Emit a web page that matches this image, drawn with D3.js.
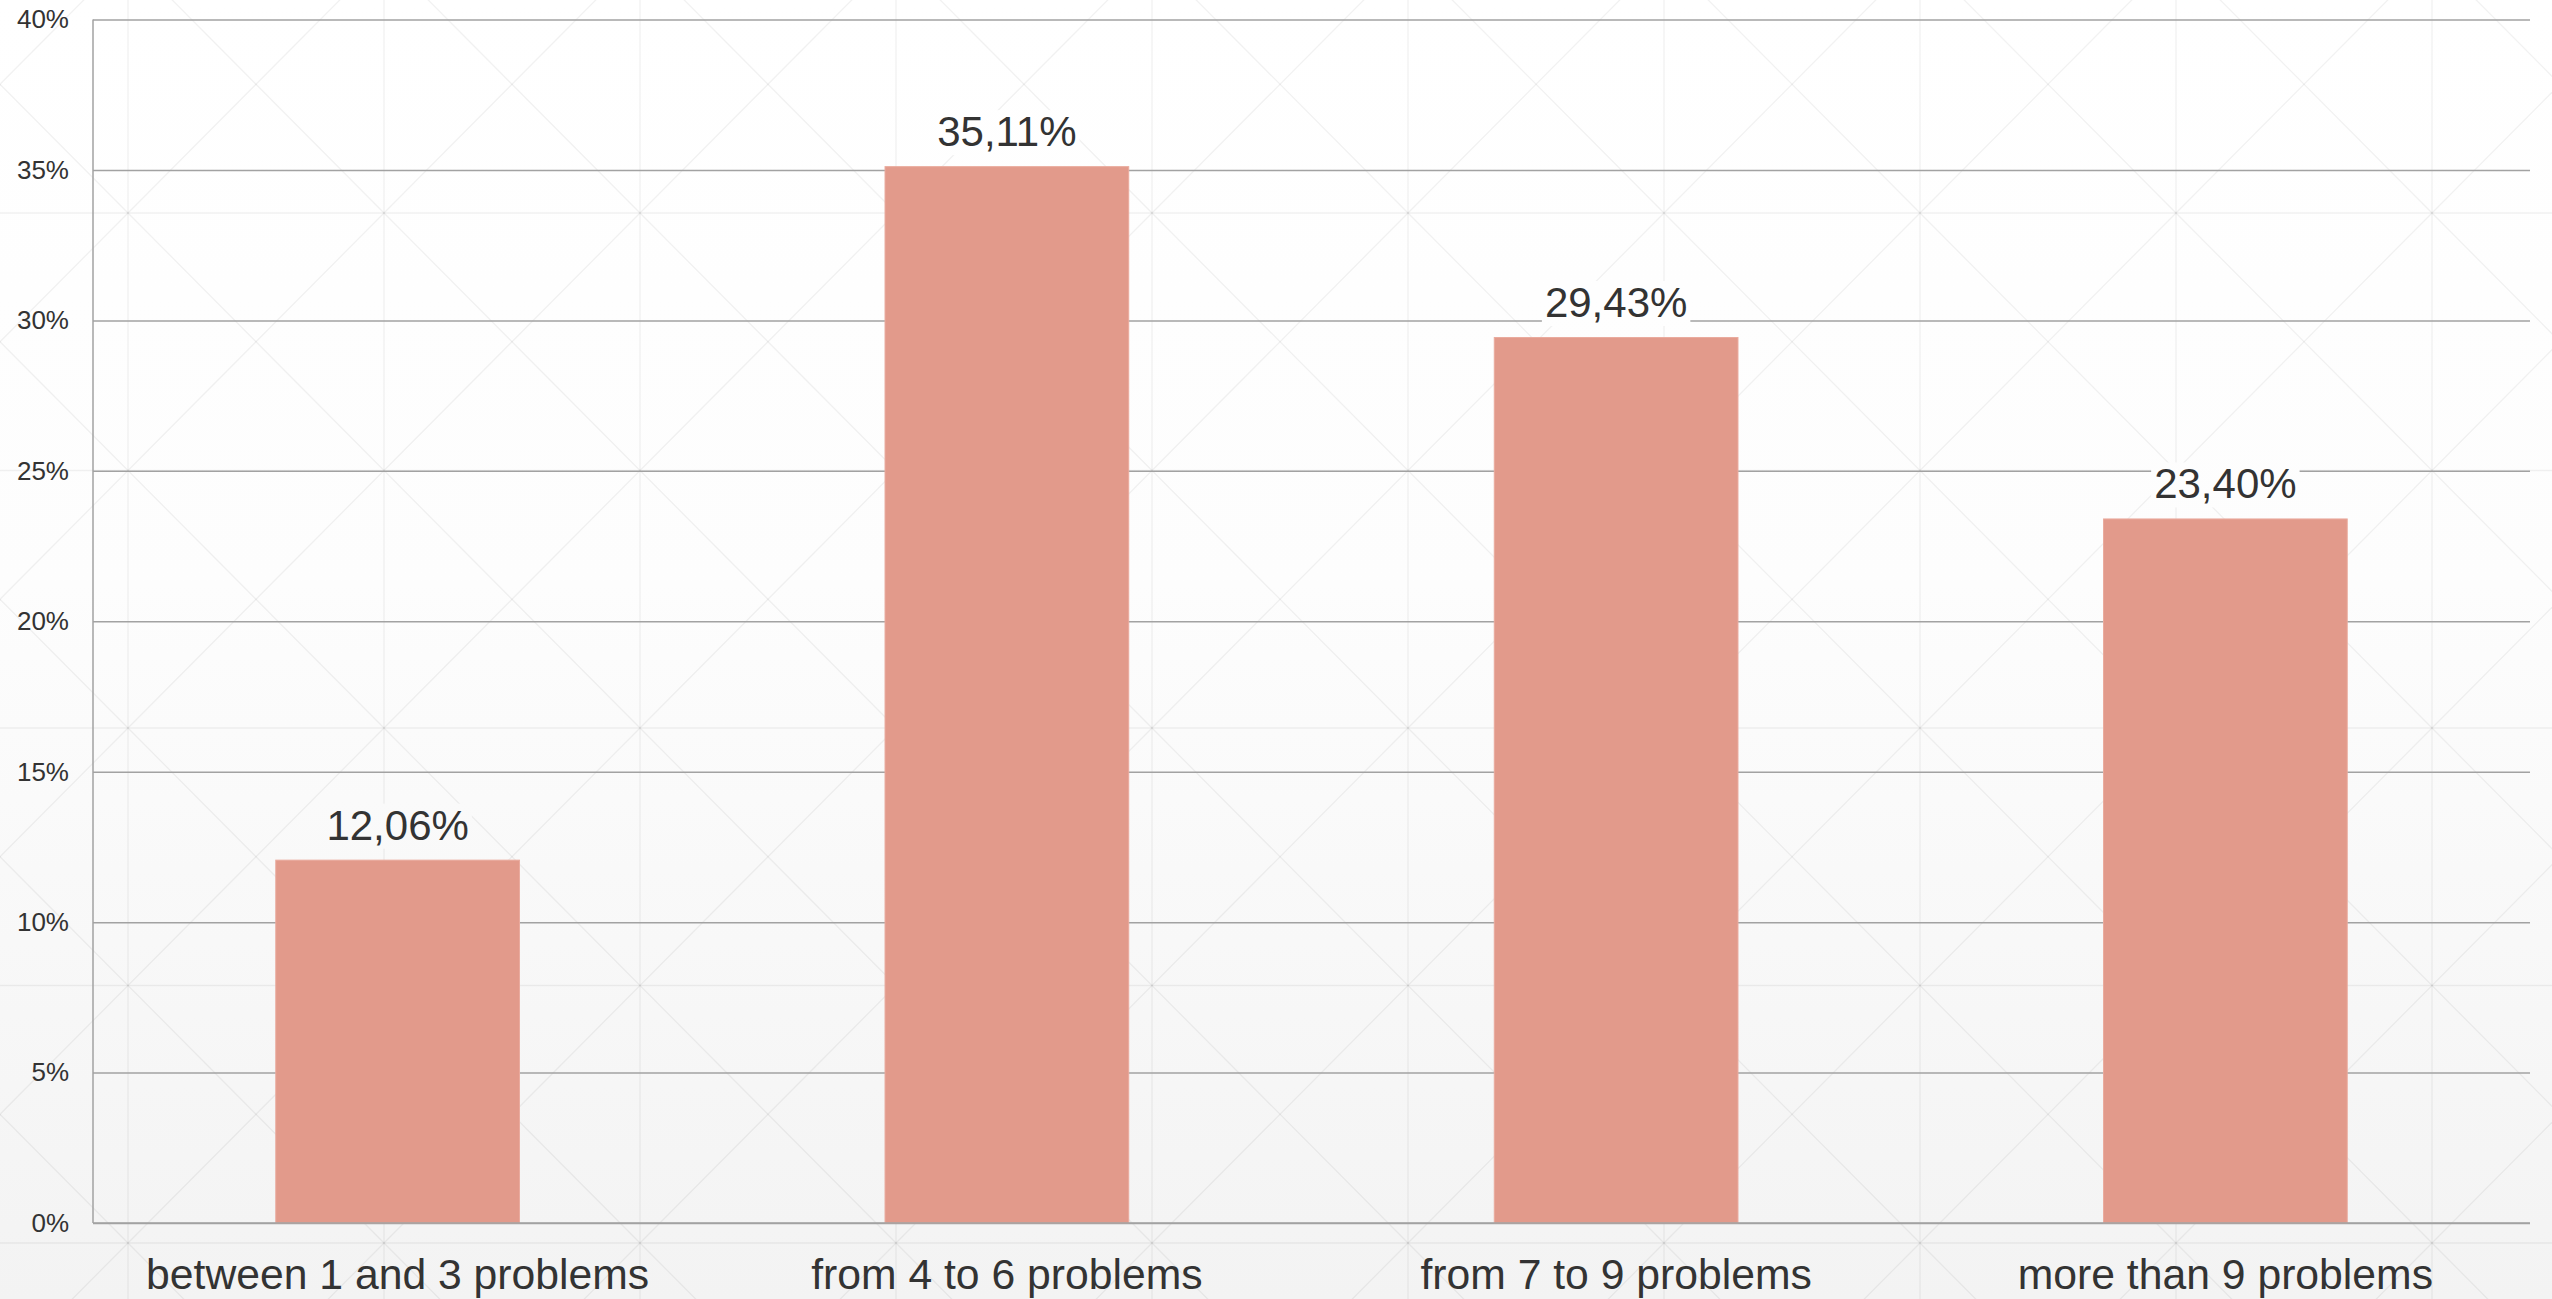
<!DOCTYPE html>
<html>
<head>
<meta charset="utf-8">
<script src="https://cdn.jsdelivr.net/npm/d3@7"></script>
<style>
  html, body { margin: 0; padding: 0; overflow: hidden; background: #fff; }
  svg { display: block; font-family: "Liberation Sans", Arial, sans-serif; }
</style>
</head>
<body>
<svg id="chart"></svg>
<script>
// Share of respondents by number of problems reported
const categories = ["between 1 and 3 problems", "from 4 to 6 problems", "from 7 to 9 problems", "more than 9 problems"];
const shares = [12.06, 35.11, 29.43, 23.40];
const yTicks = [0, 5, 10, 15, 20, 25, 30, 35, 40];

const W = 2552, H = 1299;
const margin = { top: 19.5, right: 22, bottom: 76, left: 93 };

const svg = d3.select("#chart").attr("width", W).attr("height", H);
const defs = svg.append("defs");

// soft vertical gradient used for the page and for label backings
const grad = defs.append("linearGradient")
  .attr("id", "bg").attr("gradientUnits", "userSpaceOnUse")
  .attr("x1", 0).attr("y1", 0).attr("x2", 0).attr("y2", H);
grad.append("stop").attr("offset", 0).attr("stop-color", "#ffffff");
grad.append("stop").attr("offset", 0.45).attr("stop-color", "#fdfdfd");
grad.append("stop").attr("offset", 1).attr("stop-color", "#f3f3f3");

svg.append("rect").attr("width", W).attr("height", H).attr("fill", "url(#bg)");

// decorative lattice: square cells with both diagonals
const cellW = 256, cellH = 257.5, x0 = 128, y0 = 213;
const deco = svg.append("g").attr("stroke", "#000").attr("stroke-opacity", 0.055)
  .attr("stroke-width", 1.3).attr("fill", "none");
const cols = d3.range(-1, Math.ceil((W - x0) / cellW) + 1);
const rows = d3.range(-1, Math.ceil((H - y0) / cellH) + 1);
cols.forEach(i => {
  deco.append("line").attr("x1", x0 + i * cellW).attr("x2", x0 + i * cellW).attr("y1", 0).attr("y2", H);
});
rows.forEach(j => {
  deco.append("line").attr("y1", y0 + j * cellH).attr("y2", y0 + j * cellH).attr("x1", 0).attr("x2", W);
});
cols.forEach(i => rows.forEach(j => {
  const ax = x0 + i * cellW, ay = y0 + j * cellH;
  deco.append("line").attr("x1", ax).attr("y1", ay).attr("x2", ax + cellW).attr("y2", ay + cellH);
  deco.append("line").attr("x1", ax + cellW).attr("y1", ay).attr("x2", ax).attr("y2", ay + cellH);
}));

const x = d3.scaleBand()
  .domain(categories)
  .range([margin.left, W - margin.right])
  .paddingInner(0.6)
  .paddingOuter(0.3);

const y = d3.scaleLinear()
  .domain([0, 40])
  .range([H - margin.bottom, margin.top]);

// horizontal gridlines with y-axis labels
const yAxis = d3.axisLeft(y)
  .tickValues(yTicks)
  .tickSize(-(W - margin.left - margin.right))
  .tickPadding(24)
  .tickFormat(d => d + "%");

const gy = svg.append("g")
  .attr("transform", `translate(${margin.left},0)`)
  .call(yAxis);
gy.select(".domain").remove();
gy.selectAll(".tick line").attr("stroke", "#a2a2a2").attr("stroke-width", 1.5);
gy.selectAll(".tick text")
  .attr("fill", "#333").attr("font-size", 26)
  .attr("font-family", "'Liberation Sans', Arial, sans-serif");

// axis frame lines
svg.append("line")
  .attr("x1", margin.left).attr("x2", margin.left)
  .attr("y1", y(40)).attr("y2", y(0))
  .attr("stroke", "#a2a2a2").attr("stroke-width", 1.5);

// bars
const rows4 = categories.map((c, i) => ({ c, v: shares[i] }));
svg.append("g").selectAll("rect")
  .data(rows4)
  .join("rect")
  .attr("x", d => x(d.c))
  .attr("width", x.bandwidth())
  .attr("y", d => y(d.v))
  .attr("height", d => y(0) - y(d.v))
  .attr("fill", "#e29a8b")
  .attr("stroke", "#eaab9e")
  .attr("stroke-width", 1);

svg.append("line")
  .attr("x1", margin.left).attr("x2", W - margin.right)
  .attr("y1", y(0)).attr("y2", y(0))
  .attr("stroke", "#a2a2a2").attr("stroke-width", 1.5);

// value labels with a backing that hides the grid behind them
const fmt = d3.formatLocale({ decimal: ",", thousands: ".", grouping: [3], currency: ["", "€"] }).format(".2f");
const lab = svg.append("g").selectAll("g")
  .data(rows4)
  .join("g");
const txt = lab.append("text")
  .attr("x", d => x(d.c) + x.bandwidth() / 2)
  .attr("y", d => y(d.v) - 20.5)
  .attr("text-anchor", "middle")
  .attr("font-size", 42)
  .attr("fill", "#333")
  .text(d => fmt(d.v) + "%");
txt.each(function () {
  const b = this.getBBox();
  d3.select(this.parentNode).insert("rect", "text")
    .attr("x", b.x - 3).attr("y", b.y + 2)
    .attr("width", b.width + 6).attr("height", b.height - 2)
    .attr("fill", "url(#bg)");
});

// category labels
svg.append("g").selectAll("text")
  .data(categories)
  .join("text")
  .attr("x", d => x(d) + x.bandwidth() / 2)
  .attr("y", 1289)
  .attr("text-anchor", "middle")
  .attr("font-size", 42.7)
  .attr("fill", "#333")
  .text(d => d);
</script>
</body>
</html>
